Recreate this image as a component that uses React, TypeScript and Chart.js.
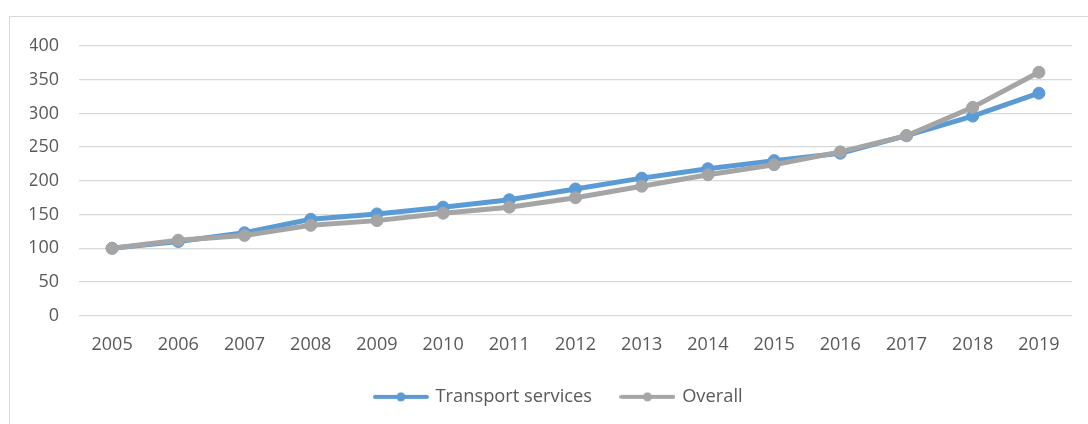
import React, { useEffect, useRef } from "react";
import { Chart, registerables } from "chart.js";

Chart.register(...registerables);

const years = ["2005","2006","2007","2008","2009","2010","2011","2012","2013","2014","2015","2016","2017","2018","2019"];
const transportServices = [100, 110, 123, 143, 151, 161, 172, 188, 204, 218, 230, 241, 267, 296, 330];
const overall = [100, 112, 119, 134, 141, 152, 161, 175, 192, 209, 224, 243, 267, 309, 361];
const yTicks = { min: 0, max: 400, step: 50 };

const BLUE = "#5B9BD5";
const GRAY = "#A5A5A5";
const TEXT = "#595959";
const GRID = "#D9D9D9";
const FONT = "'Open Sans', 'Noto Sans', sans-serif";

function legendImage(color: string) {
  const c = document.createElement("canvas");
  c.width = 56;
  c.height = 12;
  const g = c.getContext("2d")!;
  g.strokeStyle = color;
  g.lineWidth = 4;
  g.lineCap = "round";
  g.beginPath();
  g.moveTo(2, 6);
  g.lineTo(54, 6);
  g.stroke();
  g.fillStyle = color;
  g.beginPath();
  g.arc(28, 6, 4.5, 0, Math.PI * 2);
  g.fill();
  return c;
}

export default function App() {
  const ref = useRef<HTMLCanvasElement | null>(null);
  useEffect(() => {
    if (!ref.current) return;
    const imgs = [legendImage(BLUE), legendImage(GRAY)];
    const chart = new Chart(ref.current, {
      type: "line",
      data: {
        labels: years,
        datasets: [
          {
            label: "Transport services",
            data: transportServices,
            borderColor: BLUE,
            backgroundColor: BLUE,
            borderWidth: 5,
            pointRadius: 6,
            pointBorderWidth: 1,
            pointBackgroundColor: BLUE,
            pointBorderColor: BLUE,
            order: 1,
          },
          {
            label: "Overall",
            data: overall,
            borderColor: GRAY,
            backgroundColor: GRAY,
            borderWidth: 5,
            pointRadius: 6,
            pointBorderWidth: 1,
            pointBackgroundColor: GRAY,
            pointBorderColor: GRAY,
            order: 0,
          },
        ],
      },
      options: {
        animation: false,
        responsive: false,
        maintainAspectRatio: false,
        layout: { padding: { left: 30, right: 0, top: 46, bottom: 8 } },
        scales: {
          x: {
            offset: true,
            grid: { display: false, drawTicks: false },
            border: { display: false },
            ticks: { color: TEXT, font: { family: FONT, size: 18 }, padding: 18, maxRotation: 0, autoSkip: false },
            afterFit: (s: any) => { s.height = 42; },
          },
          y: {
            min: yTicks.min,
            max: yTicks.max,
            grid: { color: GRID, lineWidth: 1.3, drawTicks: false },
            border: { display: false },
            ticks: { stepSize: yTicks.step, color: TEXT, font: { family: FONT, size: 18 }, padding: 20 },
            afterFit: (s: any) => { s.width = 49; },
          },
          yRight: {
            position: "right",
            display: true,
            grid: { display: false, drawTicks: false },
            border: { display: false },
            ticks: { display: false },
            afterFit: (s: any) => { s.width = 16; },
          },
        },
        plugins: {
          tooltip: { enabled: false },
          legend: {
            position: "bottom",
            labels: {
              usePointStyle: true,
              pointStyleWidth: 51,
              padding: 30,
              color: TEXT,
              font: { family: FONT, size: 18.3 },
              generateLabels: (c: any) =>
                c.data.datasets.map((d: any, i: number) => ({
                  text: d.label,
                  pointStyle: imgs[i],
                  fillStyle: d.borderColor,
                  strokeStyle: d.borderColor,
                  lineWidth: 0,
                  hidden: false,
                  datasetIndex: i,
                  fontColor: TEXT,
                })),
            },
          },
        },
      },
    });
    return () => chart.destroy();
  }, []);
  return (
    <>
      <div
        style={{
          position: "absolute",
          left: 9,
          top: 16,
          width: 1100,
          height: 420,
          borderTop: `1px solid ${GRID}`,
          borderLeft: `1px solid ${GRID}`,
          boxSizing: "border-box",
        }}
      />
      <canvas
        ref={ref}
        width={1088}
        height={424}
        style={{ position: "absolute", left: 0, top: 0, width: 1088, height: 424 }}
      />
    </>
  );
}
